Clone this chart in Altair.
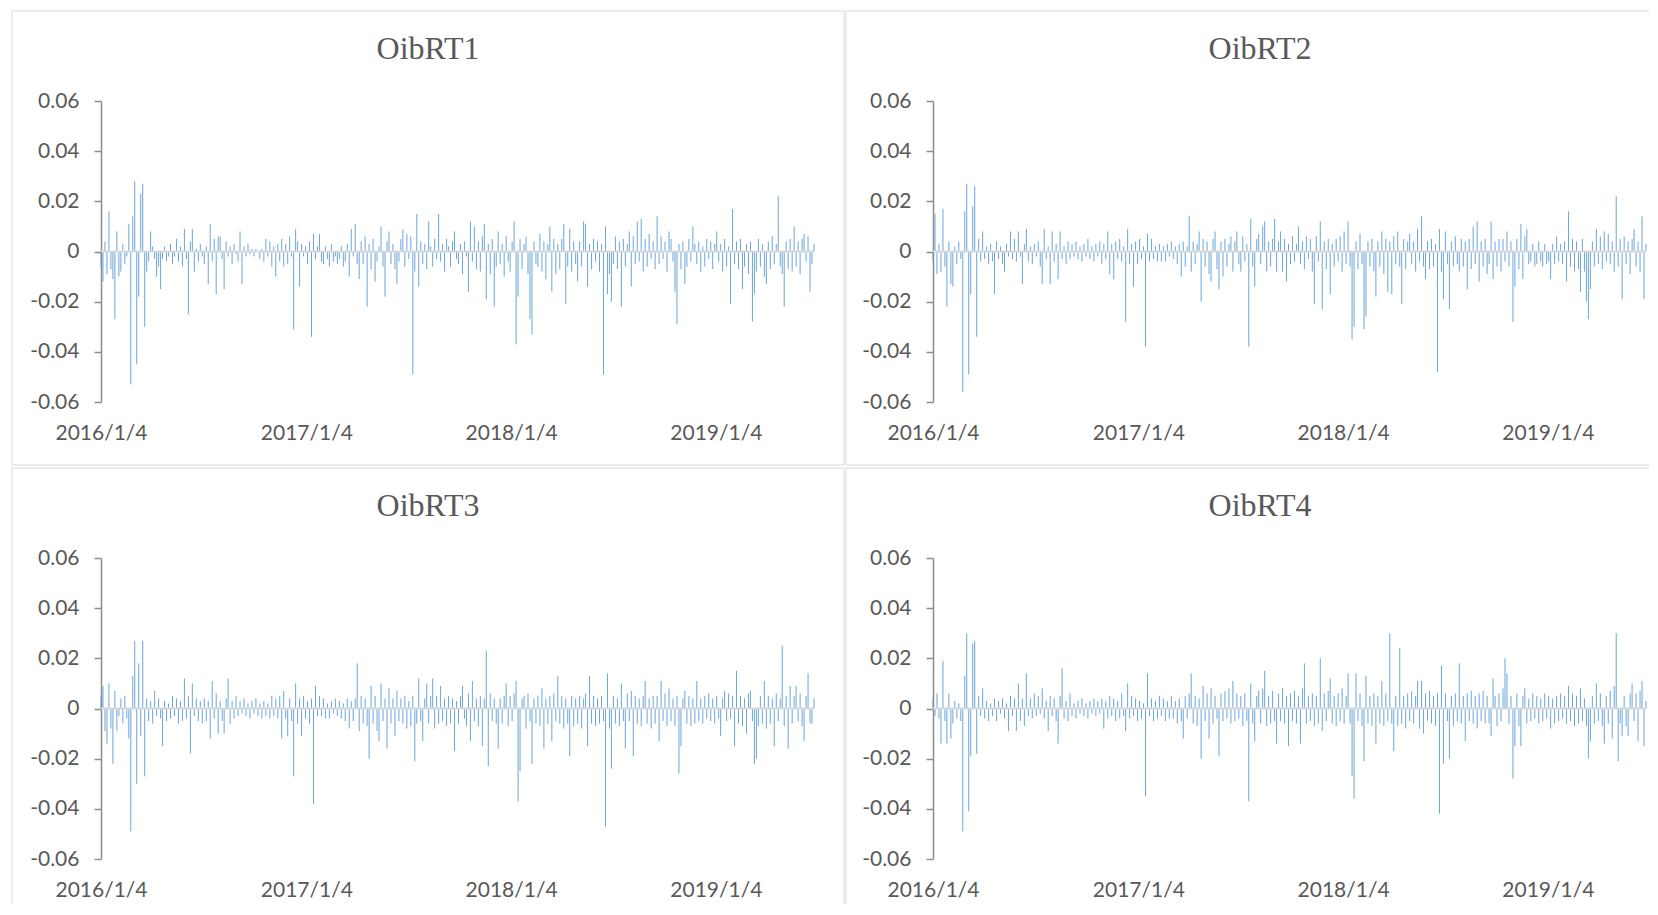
import altair as alt
import pandas as pd

START = "2016-01-04"
END = "2019-06-28"
TICK_DATES = ["2016-01-04", "2017-01-04", "2018-01-04", "2019-01-04"]
Y_TICKS = [-0.06, -0.04, -0.02, 0, 0.02, 0.04, 0.06]
TITLES = ["OibRT1", "OibRT2", "OibRT3", "OibRT4"]

# series values, in thousandths (x 0.001)
OIBRT1 = [
    -6, -12, 4, -9, 16, -7, -11, -27, 8, -10,
    -8, 3, -5, -2, 11, -53, 14, 28, -45, -18,
    23, 27, -30, -8, -4, 8, 2, -3, -10, -6,
    -15, -3, 2, -4, -2, 3, -5, -2, 5, -4,
    2, -6, 9, -3, -25, 4, 9, -8, 1, -4,
    3, -2, -5, 2, -13, 11, -4, 5, -17, 6,
    6, -3, -15, 4, -2, 2, -5, 3, -1, -4,
    8, -13, 2, -2, 3, -1, 1, -2, 1, 0,
    -3, 1, -4, 5, -2, 4, -6, 2, -10, 3,
    -4, 5, -6, 3, -5, 6, -2, -31, 9, 4,
    -14, 3, -2, 2, -5, 4, -34, 7, -3, 2,
    7, -4, -5, 2, -3, -6, 3, -4, -2, -5,
    -3, 2, -6, -4, 3, -10, 9, -2, 11, -5,
    -11, 4, -5, 6, -22, 3, -7, 5, -12, -4,
    2, 10, -6, -18, 4, 8, -5, 3, -7, -13,
    -4, 5, 9, -6, 7, -3, 6, -49, -8, 15,
    -14, 4, -5, 3, -7, 12, 2, -6, 5, -3,
    15, -4, 3, -8, 5, 2, -6, 4, 8, -3,
    -5, 3, -9, 4, -2, -16, 12, -4, 10, -7,
    4, -8, 6, 11, -19, 3, -9, 5, -22, -6,
    8, -5, 3, -10, 6, -4, -8, 4, 12, -37,
    -18, 5, -7, 3, 6, -9, -27, -33, 4, -5,
    -6, 7, -8, 4, -11, 3, 10, -16, 5, -9,
    3, -7, 5, 11, -21, -6, 9, -8, 4, -5,
    -12, 4, -6, 12, 11, -14, 3, -7, 5, -4,
    4, -8, 3, -49, 10, -17, -9, -20, -5, 6,
    -7, 4, -22, 5, -6, 3, 8, -14, 6, -5,
    12, -4, 13, -8, 5, -6, 7, -3, 4, -7,
    14, -5, 6, -3, 4, -8, 8, 5, -4, -16,
    -29, 3, -7, 4, -13, -6, 5, -4, 10, 3,
    -5, 4, -8, 2, -6, 5, -3, 4, -7, 3,
    8, -4, 3, -8, 5, -6, 2, -21, 17, -5,
    4, -7, 5, -15, -6, 3, -9, 4, -28, -17,
    -8, 5, -6, 3, -10, -13, 4, -7, 6, -5,
    3, 22, -6, -9, -22, 4, -7, 5, -8, 10,
    -6, 4, -9, 5, 7, -4, 6, -16, -5, 3,
]

OIBRT2 = [
    -4, 15, -9, 3, -8, 17, -6, -22, 4, -13,
    -14, 2, -5, 4, -3, -56, 16, 27, -49, -17,
    18, 26, -34, 5, -4, 8, -3, 2, -5, 3,
    -4, -17, 4, -3, 2, -5, -8, 3, -2, 8,
    -3, 5, -4, 8, -2, -13, 3, 9, -4, 2,
    -5, 3, -2, 4, -6, -13, 9, -3, 2, -13,
    8, -4, 3, -11, 8, -3, 2, -5, 4, -3,
    3, -2, 4, -3, 2, -4, 3, -2, 5, -3,
    2, -4, 3, -2, 4, -5, 3, -3, 8, -9,
    3, -11, 4, -3, 5, -4, 2, -28, 9, -5,
    3, -14, 4, -5, 5, -3, 2, -38, 7, -4,
    5, -3, 2, -4, 3, -4, 2, -4, 3, -2,
    4, -3, 2, -5, 3, -10, 4, -6, 2, 14,
    -8, 4, -5, 3, 8, -20, 5, -6, 4, -9,
    -12, 5, 8, -7, -15, 4, -10, 5, -6, 3,
    6, -8, 4, 8, -5, -8, 6, -4, 3, -38,
    13, -6, -14, 5, 7, -5, 10, 12, -8, 4,
    -6, 5, 13, -8, 4, 8, -8, 5, -12, 3,
    -5, 6, -4, 3, 10, -5, 4, -7, 6, -3,
    5, -8, -21, 6, -4, 12, -23, 4, -7, 5,
    -17, 3, -6, 5, -4, 6, -8, 8, -5, 12,
    -6, -35, -30, 4, -7, 7, -5, -31, -26, 4,
    -6, 5, -8, -18, 4, -6, 8, -9, 5, -16,
    4, -17, 6, -5, 8, -6, -21, 5, -7, 4,
    7, -5, 4, -8, 9, -4, 14, -6, -11, 4,
    -7, 5, -6, 3, -48, 9, -8, -19, 8, -5,
    -23, 4, -6, 6, -5, -8, 5, -6, 4, -15,
    5, -7, 10, -5, 12, -12, 4, -6, 5, -9,
    -5, 12, -11, 4, -6, 5, -8, 5, -4, 8,
    -6, 4, -28, -14, 5, -7, 11, -11, 6, 9,
    -5, -4, 3, -6, -5, 4, -4, -6, 3, -5,
    -4, -11, 3, -5, 6, -4, 3, -5, 4, -12,
    16, -6, 5, -8, 4, -7, -16, 5, -8, -20,
    -27, -15, 4, -6, 9, -5, 6, -7, 8, -4,
    7, -5, 4, -8, 22, -6, 5, -19, 6, -5,
    4, -9, 5, 9, -6, 4, -8, 14, -19, 3,
]

OIBRT3 = [
    5, 9, -9, -14, 10, -8, -22, 7, -9, -3,
    4, -6, 5, -4, -12, -49, 13, 27, -30, 18,
    -11, 27, -27, 4, -5, 3, -6, 7, -3, 4,
    -4, -15, 3, -5, 2, -4, 5, -3, 4, -6,
    3, -5, 12, -4, 5, -18, 10, -3, 4, -5,
    3, -6, 4, -5, 3, -12, 11, -4, 6, -10,
    3, -5, -10, 4, 12, -6, 3, -4, 5, -3,
    3, -2, 4, -3, 2, -4, 3, -2, 4, -3,
    2, -4, 3, -3, 2, -4, 5, -3, 4, -4,
    5, -12, 7, -4, -11, 4, -5, -27, 10, -6,
    4, -11, 5, -4, 3, -6, 4, -38, 9, -3,
    5, -3, 4, -4, 2, -4, 3, -2, 4, -3,
    3, -4, 2, -5, 4, -8, 3, -5, 4, 18,
    -9, 5, -6, 4, -7, -20, 9, -6, 5, -9,
    -13, 10, -5, 4, -16, 8, -6, 4, -11, 7,
    -5, 4, -6, 5, -8, 3, -7, 5, -21, -6,
    12, -5, -13, 4, 10, -6, 5, 12, -8, 5,
    -6, 9, -5, 4, -7, 5, -6, 4, -17, 3,
    -6, 5, 9, -4, -7, 6, -13, 11, -5, 4,
    -7, 5, -15, 4, 23, -23, 6, -5, 4, -6,
    -16, 4, -6, 5, 10, -7, 5, -5, 6, 11,
    -37, -25, 4, 5, -8, 6, -5, -22, 4, -6,
    5, -7, 8, -16, 4, -6, 5, -13, 6, -5,
    13, -6, 5, -8, 4, -6, -19, 5, -7, 4,
    -6, 5, -8, 4, 6, -15, 13, -6, 5, -7,
    4, -6, 5, -5, -47, 14, -8, -24, 5, -6,
    4, -7, 10, -5, -16, 6, -5, 7, -19, 5,
    -6, 4, -7, 5, 11, -6, 4, -8, 5, -6,
    5, -13, 11, -5, 6, -7, 8, -5, 4, -7,
    5, -26, -15, 4, 7, -6, 5, -7, 4, -6,
    11, -5, 4, -6, 5, -4, 6, -5, 4, -6,
    5, -4, -11, 4, 7, -5, 6, -4, 5, -15,
    15, -6, 5, -7, 4, -10, 6, 7, -5, -22,
    -20, -7, 5, -6, 11, -8, 5, -6, 4, -15,
    6, -5, 4, 25, -7, 5, -16, 9, -6, 5,
    9, -5, 6, -7, -13, 5, 14, -6, -6, 4,
]

OIBRT4 = [
    4, -3, 6, -4, -14, 19, -5, -14, 6, -12,
    -6, 3, -4, 2, -5, -49, 13, 30, -41, -19,
    26, 27, -18, 5, -3, 8, -4, 3, -5, 2,
    -3, 4, -5, 3, -2, 4, -4, 2, -9, 5,
    -3, 4, -9, 10, -5, 4, -7, 14, -3, 4,
    -4, 6, -3, 5, -2, 8, -4, 3, -9, 5,
    -3, 4, -5, -14, 5, 16, -4, 3, -5, 6,
    -3, 2, -4, 3, -2, 4, -3, 2, -4, 3,
    -2, 4, -3, 3, -2, 4, -8, 3, -4, 5,
    -3, 4, -5, 3, -4, 6, -3, -9, 10, -4,
    5, -3, 4, -5, 3, -4, 2, -35, 14, -3,
    4, -5, 3, -4, 5, -3, 4, -5, 3, -4,
    5, -4, 3, -6, 4, -5, -12, 5, -4, 6,
    14, -6, 5, -7, 4, -20, 9, -5, 6, -12,
    8, -6, 5, -4, -19, 6, -5, 7, -4, 8,
    -6, 11, -5, 6, -4, 5, -7, 6, -5, -37,
    10, -6, -13, 5, 7, -6, 8, 15, -7, 5,
    -6, 7, -5, -14, 6, -5, 8, -6, 5, -15,
    6, -5, 7, -6, 5, -14, 8, 18, -6, 5,
    -5, 6, -7, 5, -6, 20, -9, 6, -5, 7,
    12, -6, 5, -7, 6, -5, 8, -6, 5, 14,
    -6, -27, -36, 14, -5, 6, -7, -21, 13, -6,
    5, -7, 6, -14, 5, -6, 11, -7, 6, -5,
    30, -6, -17, 5, -7, 24, -6, 5, -8, 6,
    -5, 7, -6, 5, 11, -8, 11, -10, 6, -5,
    7, -6, 5, -7, 6, -42, 17, -22, 6, -5,
    -20, 5, -7, 6, -5, 18, -6, 5, -13, 6,
    -5, 7, -6, 5, -8, 6, -5, 7, -6, 5,
    -6, -11, 12, 5, -7, 6, -5, 8, 20, 14,
    -6, 5, -28, -15, 6, -7, -15, 5, 8, -6,
    4, -5, 6, -4, 5, -6, 4, -5, 6, -4,
    5, -8, 4, -6, 5, -5, 6, -4, 5, -6,
    9, -5, 6, -7, 5, -6, 8, -5, 4, -7,
    -20, -13, 5, -6, 10, -5, 6, -7, -14, 5,
    -6, 7, -12, 9, 30, -21, -6, -11, 5, -7,
    -11, 6, 10, -5, 6, -13, 7, 11, -15, 3,
]

SERIES = [OIBRT1, OIBRT2, OIBRT3, OIBRT4]

BAR_COLOR = "#5b9bd5"
FRAME_COLOR = "#d9d9d9"
TEXT_COLOR = "#595959"
AXIS_COLOR = "#8c8c8c"
LABEL_FONT = "Lato"
PLOT_W = 713
PLOT_H = 301


def to_ms(s):
    return int(pd.Timestamp(s).value // 10**6)


def panel(title, vals, right_col, bottom_row):
    n = len(vals)
    dates = pd.date_range(START, END, periods=n)
    df = pd.DataFrame({
        "t": (dates.astype("int64") // 10**6).tolist(),
        "v": [x / 1000 for x in vals],
    })
    one = pd.DataFrame({"k": [0]})

    x_enc = alt.X(
        "t:T",
        scale=alt.Scale(type="utc", domain=[to_ms(START), to_ms(END)]),
        axis=alt.Axis(
            values=[to_ms(d) for d in TICK_DATES],
            labelExpr="utcFormat(datum.value, '%Y/%-m/%-d')",
            domain=False, ticks=False, grid=False, title=None,
            labelFont=LABEL_FONT, labelFontSize=21, labelColor=TEXT_COLOR,
            labelPadding=20, labelFlush=False, labelOverlap=False,
        ),
    )
    y_enc = alt.Y(
        "v:Q",
        scale=alt.Scale(domain=[-0.06, 0.06], nice=False, zero=False),
        axis=alt.Axis(
            values=Y_TICKS,
            labelExpr="datum.value == 0 ? '0' : (datum.value < 0 ? '-' + format(-datum.value, '.2f') : format(datum.value, '.2f'))",
            grid=False, title=None,
            domainColor=AXIS_COLOR, domainWidth=1.5,
            tickColor=AXIS_COLOR, tickWidth=1.5, tickSize=7,
            labelPadding=15, labelFont=LABEL_FONT, labelFontSize=21,
            labelColor=TEXT_COLOR,
        ),
    )

    bars = alt.Chart(df).mark_rule(
        color=BAR_COLOR, strokeWidth=1, opacity=0.9
    ).encode(x=x_enc, y=y_enc, y2=alt.datum(0))

    zero = alt.Chart(one).mark_rule(color=FRAME_COLOR, strokeWidth=2).encode(
        y=alt.datum(0)
    )

    fl = -87 if right_col else -89
    fr = 716 if right_col else 743
    ft = -90
    fb = 346 if bottom_row else 364

    frames = []
    # top edge
    frames.append(alt.Chart(one).mark_rule(color=FRAME_COLOR, strokeWidth=1).encode(
        x=alt.value(fl), x2=alt.value(fr), y=alt.value(ft)))
    # left edge
    frames.append(alt.Chart(one).mark_rule(color=FRAME_COLOR, strokeWidth=1).encode(
        x=alt.value(fl), y=alt.value(ft), y2=alt.value(fb)))
    if not right_col:
        frames.append(alt.Chart(one).mark_rule(color=FRAME_COLOR, strokeWidth=1).encode(
            x=alt.value(fr), y=alt.value(ft), y2=alt.value(fb)))
    if not bottom_row:
        frames.append(alt.Chart(one).mark_rule(color=FRAME_COLOR, strokeWidth=1).encode(
            x=alt.value(fl), x2=alt.value(fr), y=alt.value(fb)))

    title_txt = alt.Chart(one).mark_text(
        text=title, font="Liberation Serif", fontSize=32, color=TEXT_COLOR,
        align="center", baseline="middle",
    ).encode(x=alt.value(327), y=alt.value(-52))

    return alt.layer(*frames, bars, zero, title_txt).properties(
        width=PLOT_W, height=PLOT_H
    )


p1 = panel(TITLES[0], SERIES[0], False, False)
p2 = panel(TITLES[1], SERIES[1], True, False)
p3 = panel(TITLES[2], SERIES[2], False, True)
p4 = panel(TITLES[3], SERIES[3], True, True)

chart = alt.vconcat(
    alt.hconcat(p1, p2, spacing=0),
    alt.hconcat(p3, p4, spacing=0),
    spacing=1,
).properties(
    padding={"left": 3, "top": 2, "right": 0, "bottom": 0},
    background="white",
).configure_view(stroke=None)

chart.save("out.html", embed_options={"renderer": "svg", "actions": False})
